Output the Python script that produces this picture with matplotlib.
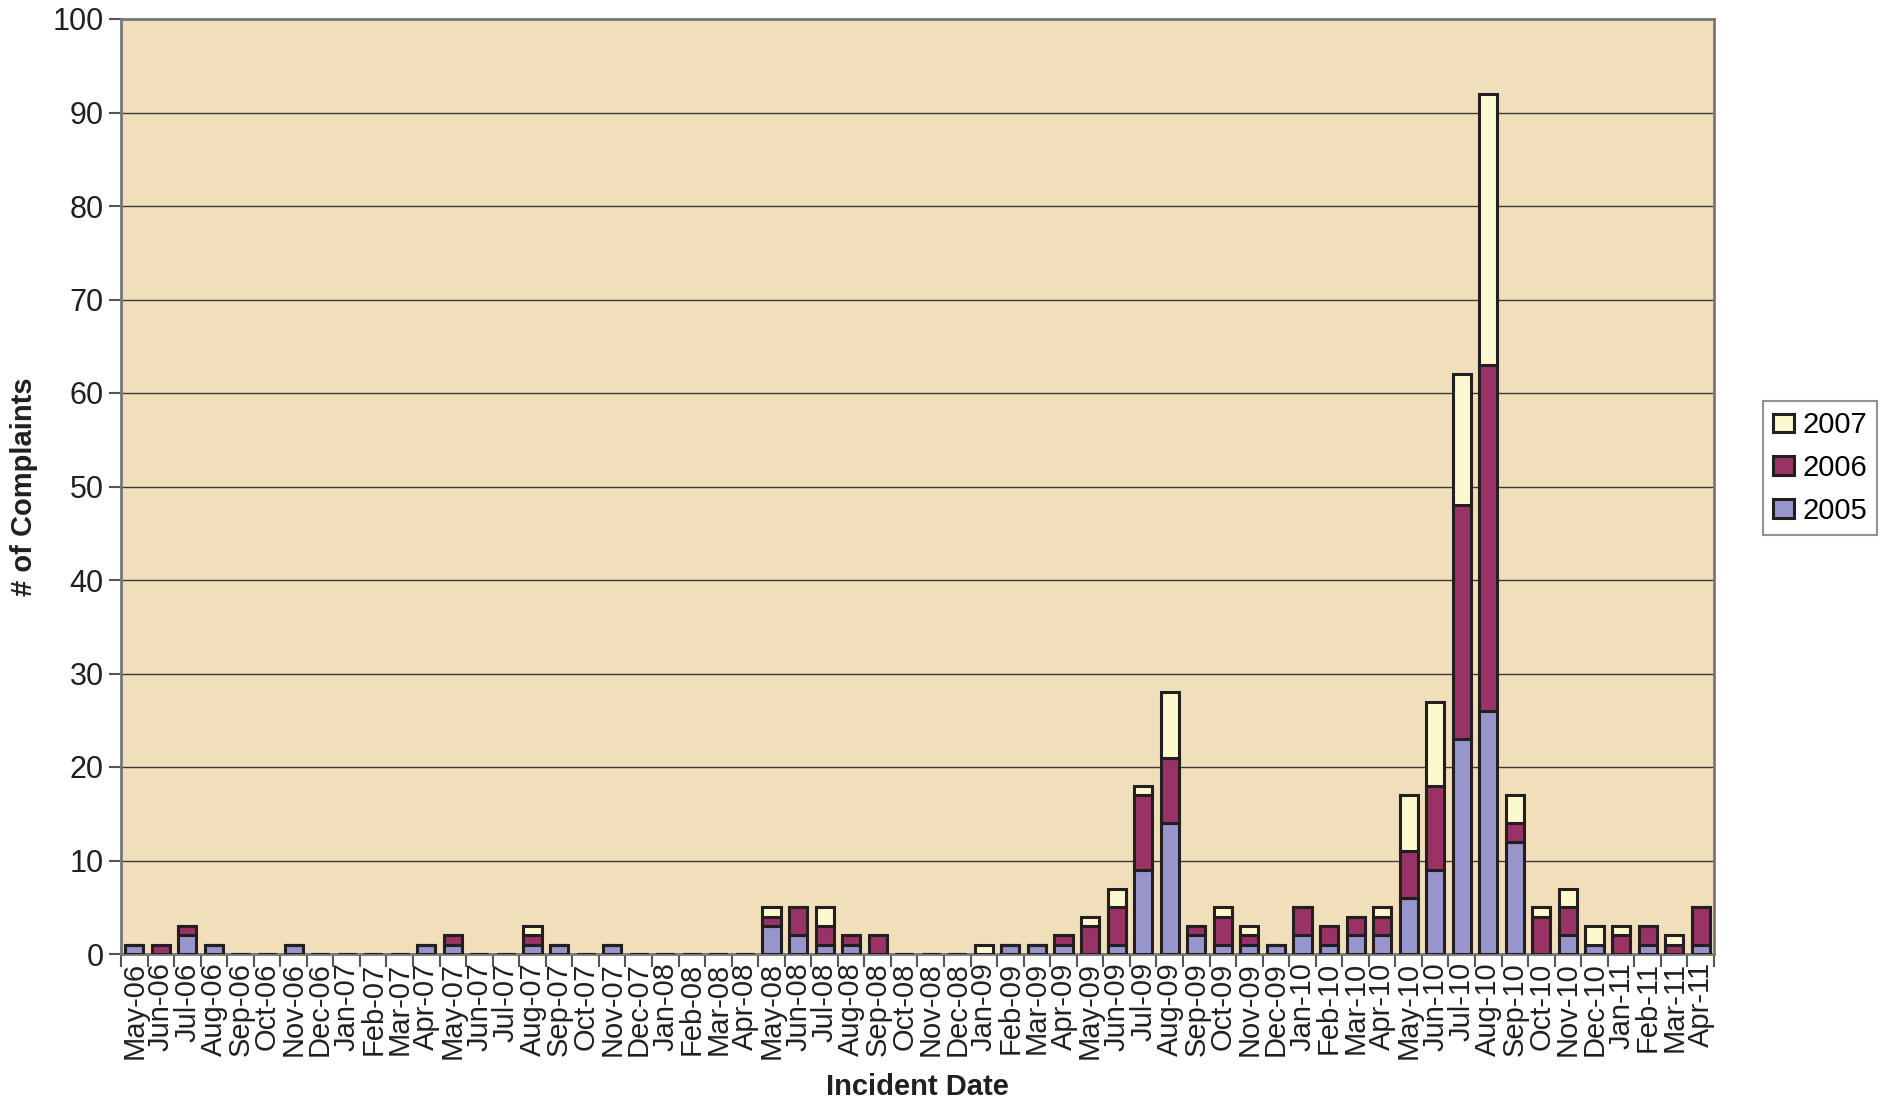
import numpy as np
import matplotlib.pyplot as plt

plt.rcParams['font.family'] = ['Liberation Sans', 'DejaVu Sans']

months = ["May-06", "Jun-06", "Jul-06", "Aug-06", "Sep-06", "Oct-06", "Nov-06", "Dec-06",
          "Jan-07", "Feb-07", "Mar-07", "Apr-07", "May-07", "Jun-07", "Jul-07", "Aug-07",
          "Sep-07", "Oct-07", "Nov-07", "Dec-07", "Jan-08", "Feb-08", "Mar-08", "Apr-08",
          "May-08", "Jun-08", "Jul-08", "Aug-08", "Sep-08", "Oct-08", "Nov-08", "Dec-08",
          "Jan-09", "Feb-09", "Mar-09", "Apr-09", "May-09", "Jun-09", "Jul-09", "Aug-09",
          "Sep-09", "Oct-09", "Nov-09", "Dec-09", "Jan-10", "Feb-10", "Mar-10", "Apr-10",
          "May-10", "Jun-10", "Jul-10", "Aug-10", "Sep-10", "Oct-10", "Nov-10", "Dec-10",
          "Jan-11", "Feb-11", "Mar-11", "Apr-11"]

y2005 = [1, 0, 2, 1, 0, 0, 1, 0, 0, 0, 0, 1, 1, 0, 0, 1, 1, 0, 1, 0, 0, 0, 0, 0,
         3, 2, 1, 1, 0, 0, 0, 0, 0, 1, 1, 1, 0, 1, 9, 14, 2, 1, 1, 1, 2, 1, 2, 2,
         6, 9, 23, 26, 12, 0, 2, 1, 0, 1, 0, 1]
y2006 = [0, 1, 1, 0, 0, 0, 0, 0, 0, 0, 0, 0, 1, 0, 0, 1, 0, 0, 0, 0, 0, 0, 0, 0,
         1, 3, 2, 1, 2, 0, 0, 0, 0, 0, 0, 1, 3, 4, 8, 7, 1, 3, 1, 0, 3, 2, 2, 2,
         5, 9, 25, 37, 2, 4, 3, 0, 2, 2, 1, 4]
y2007 = [0, 0, 0, 0, 0, 0, 0, 0, 0, 0, 0, 0, 0, 0, 0, 1, 0, 0, 0, 0, 0, 0, 0, 0,
         1, 0, 2, 0, 0, 0, 0, 0, 1, 0, 0, 0, 1, 2, 1, 7, 0, 1, 1, 0, 0, 0, 0, 1,
         6, 9, 14, 29, 3, 1, 2, 2, 1, 0, 1, 0]

x = np.arange(len(months))
a = np.array(y2005)
b = np.array(y2006)
c = np.array(y2007)

fig = plt.figure(figsize=(18.81, 11.12), dpi=100)
ax = fig.add_axes([121 / 1881, 1 - 954 / 1112, (1714 - 121) / 1881, (954 - 19) / 1112])
ax.set_facecolor("#F0DFBA")

w = 0.68
kw = dict(width=w, edgecolor="#231F20", linewidth=2.2, zorder=3)
p5 = ax.bar(x, a, color="#9795CB", label="2005", **kw)
p6 = ax.bar(x, b, bottom=a, color="#993366", label="2006", **kw)
p7 = ax.bar(x, c, bottom=a + b, color="#FDF9CE", label="2007", **kw)

ax.set_xlim(-0.5, len(months) - 0.5)
ax.set_ylim(0, 100)
ax.set_yticks(np.arange(0, 101, 10))
ax.yaxis.grid(True, color="#3a3a3a", linewidth=1.0, zorder=1)
ax.set_axisbelow(True)

ax.set_xticks(x)
ax.set_xticklabels(months, rotation=90, fontsize=21, color="#231F20")
ax.tick_params(axis="x", which="major", length=0, pad=6)
ax.set_xticks(np.arange(-0.5, len(months), 1), minor=True)
ax.tick_params(axis="x", which="minor", length=9, width=1.5, color="#555555")
ax.tick_params(axis="y", labelsize=22, length=9, width=1.5, color="#555555", labelcolor="#231F20")

for s in ax.spines.values():
    s.set_color("#777777")
    s.set_linewidth(2)

ax.set_ylabel("# of Complaints", fontsize=21, fontweight="bold", color="#231F20", labelpad=10)
ax.set_xlabel("Incident Date", fontsize=21, fontweight="bold", color="#231F20", labelpad=10)

leg = ax.legend(handles=[p7, p6, p5], labels=["2007", "2006", "2005"],
                loc="center left", bbox_to_anchor=(1763 / 1881, 1 - 468 / 1112),
                bbox_transform=fig.transFigure, fontsize=21, frameon=True, fancybox=False,
                handlelength=0.7, handleheight=0.6, handletextpad=0.3, borderpad=0.35,
                labelspacing=0.5, borderaxespad=0)
leg.get_frame().set_edgecolor("#777777")
leg.get_frame().set_linewidth(1.5)

fig.savefig("out.png", dpi=100)
